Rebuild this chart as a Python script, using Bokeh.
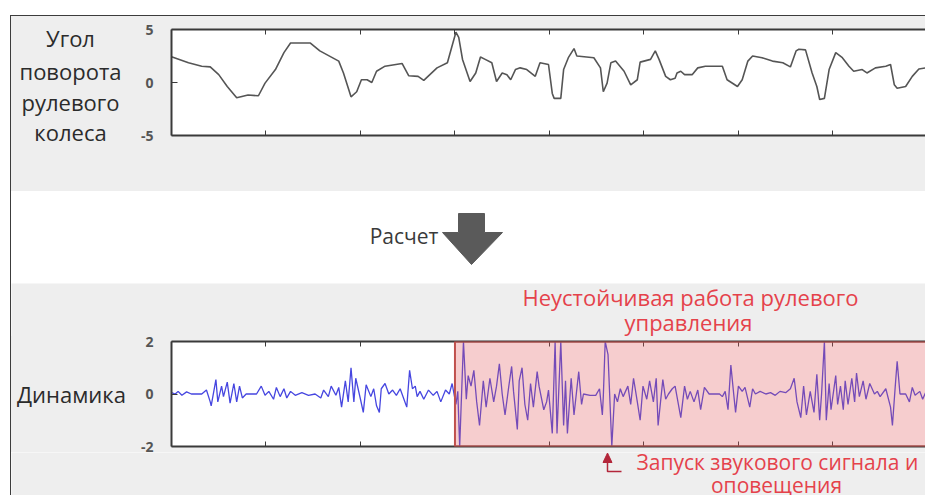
from bokeh.plotting import figure
from bokeh.models import (Range1d, LinearAxis, FixedTicker, CustomJSTickFormatter,
                          BoxAnnotation, Spacer)
from bokeh.layouts import column, row
from bokeh.core.properties import value
from bokeh.embed import file_html
from bokeh.resources import INLINE

# ---------------- data ----------------
angle_t = [0.00, 0.18, 0.32, 0.41, 0.50, 0.59, 0.69, 0.81, 0.92, 0.99,
           1.10, 1.19, 1.26, 1.47, 1.57, 1.77, 1.82, 1.90, 1.96, 2.01,
           2.07, 2.12, 2.17, 2.26, 2.44, 2.51, 2.61, 2.67, 2.81, 2.92,
           2.97, 3.01, 3.04, 3.08, 3.16, 3.22, 3.27, 3.32, 3.39, 3.44,
           3.50, 3.55, 3.59, 3.64, 3.69, 3.76, 3.85, 3.90, 3.99, 4.03,
           4.05, 4.12, 4.15, 4.20, 4.26, 4.29, 4.47, 4.54, 4.57, 4.61,
           4.65, 4.70, 4.79, 4.86, 4.93, 4.96, 5.07, 5.12, 5.16, 5.23,
           5.28, 5.33, 5.35, 5.39, 5.43, 5.51, 5.57, 5.65, 5.83, 5.88,
           5.99, 6.04, 6.10, 6.15, 6.25, 6.36, 6.47, 6.55, 6.61, 6.64,
           6.71, 6.78, 6.83, 6.86, 6.91, 6.96, 7.03, 7.10, 7.17, 7.22,
           7.31, 7.36, 7.45, 7.56, 7.61, 7.65, 7.68, 7.77, 7.84, 7.91,
           7.98]
angle = [2.43, 1.86, 1.54, 1.47, 0.74, -0.38, -1.44, -1.18, -1.25, -0.06,
         1.22, 2.82, 3.72, 3.72, 2.98, 2.02, 0.9, -1.35, -0.87, 0.26,
         0.26, 0.0, 1.06, 1.54, 1.8, 0.64, 0.58, 0.2, 1.38, 1.86,
         3.46, 4.74, 4.26, 2.18, 0.1, 0.9, 2.4, 2.18, 1.86, 0.1,
         0.9, 0.74, 0.26, 1.22, 1.38, 1.22, 0.58, 1.86, 1.7, -1.03,
         -1.5, -1.5, 1.22, 2.34, 3.2, 2.5, 2.34, 1.38, -0.87, -0.06,
         1.86, 2.02, 1.06, -0.22, 0.26, 1.92, 2.18, 2.98, 2.18, 0.58,
         0.26, 0.41, 0.9, 1.06, 0.74, 0.74, 1.38, 1.54, 1.54, 0.26,
         -0.38, 0.26, 2.02, 2.5, 2.34, 2.02, 1.86, 1.47, 2.98, 3.14,
         3.08, 0.9, -0.38, -1.6, -1.5, 1.22, 2.82, 2.34, 1.54, 1.06,
         1.22, 0.9, 1.38, 1.54, 1.7, -0.22, -0.55, -0.38, 0.58, 1.28,
         1.38]

dyn_t = [0.00, 0.04, 0.07, 0.11, 0.16, 0.21, 0.32, 0.37, 0.41, 0.42,
         0.47, 0.49, 0.53, 0.55, 0.59, 0.62, 0.66, 0.69, 0.72, 0.75,
         0.79, 0.90, 0.95, 0.99, 1.03, 1.08, 1.11, 1.15, 1.19, 1.22,
         1.26, 1.31, 1.38, 1.45, 1.52, 1.58, 1.61, 1.66, 1.69, 1.74,
         1.77, 1.80, 1.84, 1.87, 1.90, 1.93, 1.95, 2.00, 2.03, 2.06,
         2.11, 2.14, 2.17, 2.20, 2.22, 2.26, 2.30, 2.34, 2.38, 2.42,
         2.46, 2.49, 2.52, 2.55, 2.58, 2.60, 2.63, 2.67, 2.72, 2.77,
         2.81, 2.85, 2.90, 2.94, 2.97, 3.01, 3.03, 3.05, 3.09, 3.12,
         3.14, 3.17, 3.20, 3.23, 3.26, 3.30, 3.33, 3.37, 3.41, 3.44,
         3.47, 3.50, 3.53, 3.57, 3.60, 3.62, 3.66, 3.68, 3.71, 3.74,
         3.77, 3.80, 3.83, 3.87, 3.89, 3.94, 3.97, 3.99, 4.03, 4.06,
         4.08, 4.12, 4.15, 4.17, 4.19, 4.23, 4.26, 4.31, 4.34, 4.36,
         4.43, 4.49, 4.53, 4.56, 4.57, 4.59, 4.62, 4.66, 4.69, 4.72,
         4.75, 4.78, 4.83, 4.86, 4.89, 4.93, 4.96, 4.99, 5.03, 5.06,
         5.10, 5.13, 5.15, 5.20, 5.23, 5.26, 5.30, 5.33, 5.37, 5.39,
         5.43, 5.46, 5.49, 5.53, 5.57, 5.60, 5.64, 5.69, 5.75, 5.80,
         5.83, 5.86, 5.89, 5.92, 5.95, 5.97, 6.00, 6.04, 6.07, 6.12,
         6.15, 6.18, 6.23, 6.29, 6.34, 6.39, 6.44, 6.50, 6.55, 6.59,
         6.62, 6.66, 6.69, 6.72, 6.76, 6.80, 6.83, 6.86, 6.88, 6.91,
         6.93, 6.96, 6.98, 7.03, 7.05, 7.08, 7.11, 7.13, 7.16, 7.20,
         7.23, 7.25, 7.28, 7.32, 7.35, 7.39, 7.44, 7.47, 7.50, 7.56,
         7.61, 7.63, 7.66, 7.68, 7.71, 7.77, 7.81, 7.84, 7.87, 7.92,
         7.95, 7.98]
dyn = [0.05, 0.0, 0.1, -0.05, 0.08, 0.0, 0.0, 0.15, -0.3, -0.45,
       0.55, -0.3, 0.3, -0.1, 0.45, -0.35, 0.4, -0.3, 0.3, -0.15,
       0.0, 0.0, 0.3, -0.05, 0.1, -0.2, 0.25, -0.1, 0.2, -0.15,
       0.1, -0.05, 0.05, -0.05, 0.0, -0.15, 0.15, -0.1, 0.3, -0.05,
       0.25, -0.5, 0.5, -0.3, 1.0, -0.3, 0.6, -0.2, -0.7, 0.35,
       -0.1, 0.2, -0.45, -0.7, 0.2, 0.4, 0.0, 0.15, -0.05, 0.2,
       -0.2, -0.5, 0.9, 0.2, 0.3, -0.1, 0.1, -0.2, 0.15, -0.05,
       0.1, -0.3, 0.15, 0.0, 0.4, -0.4, 0.1, -2.0, 2.0, -0.2,
       0.7, 0.3, 0.9, -0.3, -1.2, 0.5, -0.5, 0.6, -0.3, 0.3,
       1.15, 0.0, -0.8, 0.3, 1.05, 0.1, -1.35, 0.5, 1.0, -0.4,
       -1.0, 0.4, -0.5, 0.85, 0.3, -0.6, -0.3, 0.15, -1.5, 2.0,
       -1.5, 2.0, -1.2, 0.5, -1.5, 0.6, -0.8, 0.85, -0.4, 0.0,
       -0.05, -0.05, 0.2, -0.8, -0.1, 2.0, 1.5, -2.0, 0.0, -0.3,
       0.2, -0.1, 0.3, -0.4, 0.6, -0.3, -1.0, 0.3, -0.2, 0.5,
       -0.3, 0.6, -1.2, 0.55, -0.2, 0.0, 0.2, 0.3, -0.5, -0.9,
       0.3, -0.2, 0.1, -0.3, 0.15, -0.6, 0.25, 0.0, 0.0, 0.0,
       -0.1, 0.1, -0.6, 1.1, 0.0, -0.7, 0.3, 0.1, 0.25, -0.5,
       0.2, 0.0, 0.1, 0.0, 0.05, -0.05, 0.1, 0.05, 0.2, 0.6,
       -0.3, -0.9, 0.3, -0.8, 0.1, -0.7, 0.75, -1.0, 0.0, 2.0,
       -1.0, 0.4, -0.6, 0.7, -0.4, 0.3, -0.6, 0.5, -0.4, 0.6,
       -0.3, 0.8, -0.1, 0.5, -0.2, 0.4, 0.0, 0.1, -0.1, 0.2,
       -0.5, -1.2, 0.3, 1.25, 0.0, 0.0, -0.3, 0.25, -0.05, 0.1,
       -0.2, 0.05]

x_ticks = [1, 2, 3, 4, 5, 6, 7]
angle_ticks = [-5, 0, 5]
dyn_ticks = [-2, 0, 2]
alert_start = 3.0

angle_title = ["Угол", "поворота", "рулевого", "колеса"]
dyn_title = "Динамика"
calc_text = "Расчет"
unstable_text = ["Неустойчивая работа рулевого", "управления"]
alert_text = ["Запуск звукового сигнала и", "оповещения"]

FONT = "Open Sans"
GRAY = "#eeeeee"
AXIS = "#3a3a3a"
RED = "#e5424b"
DARKRED = "#b3263a"
W = 914          # content width
LW = 125         # label column width
PW = W - LW      # plot figure width


def canvas(w, h, x0, x1, y_top, y_bot, bg):
    """Plain drawing area (no axes) whose frame fills the figure."""
    c = figure(width=w, height=h, x_range=Range1d(x0, x1), y_range=Range1d(y_bot, y_top),
               output_backend="svg", toolbar_location=None, min_border=0,
               x_axis_location=None, y_axis_location=None,
               background_fill_color=bg, border_fill_color=bg,
               outline_line_color=None, frame_align=False)
    c.grid.visible = False
    return c


def panel(h, top, bottom, yr, yticks):
    p = figure(width=PW, height=h, x_range=Range1d(0, 7.98), y_range=Range1d(*yr),
               output_backend="svg", toolbar_location=None,
               x_axis_location=None, y_axis_location=None,
               min_border_left=35, min_border_right=0,
               min_border_top=top, min_border_bottom=bottom,
               background_fill_color="white", border_fill_color=GRAY,
               outline_line_color=None, frame_align=False)
    p.grid.visible = False
    for loc in ("above", "below"):
        ax = LinearAxis(ticker=FixedTicker(ticks=x_ticks),
                        formatter=CustomJSTickFormatter(code="return ''"),
                        major_tick_in=5, major_tick_out=0,
                        minor_tick_line_color=None,
                        axis_line_color=AXIS, axis_line_width=2,
                        major_tick_line_color=AXIS, major_tick_line_width=1,
                        major_label_standoff=0, major_label_text_font_size="1px")
        p.add_layout(ax, loc)
    ya = LinearAxis(ticker=FixedTicker(ticks=yticks),
                    formatter=CustomJSTickFormatter(code="return tick.toString()"),
                    major_tick_in=6, major_tick_out=0,
                    minor_tick_line_color=None,
                    axis_line_color=AXIS, axis_line_width=2,
                    major_tick_line_color=AXIS,
                    major_label_text_font=FONT, major_label_text_font_size="14px",
                    major_label_text_font_style="bold",
                    major_label_text_color="#555555",
                    major_label_standoff=18)
    p.add_layout(ya, "left")
    return p


def label(c, x, y, txt, color="#2b2b2b", align="center", size="22px"):
    c.text(x=[x], y=[y], text=[txt], text_align=align, text_baseline="middle",
           text_font=value(FONT), text_font_size=size, text_color=color)


# ---------------- band 1: steering angle (y 16..191) ----------------
lt = canvas(LW, 175, 11, 11 + LW, 16, 191, GRAY)
for txt, yy in zip(angle_title, [37, 70, 101, 131]):
    label(lt, 70, yy, txt)
pt = panel(175, 13, 56, (-5, 5), angle_ticks)
pt.line(angle_t, angle, line_color="#555555", line_width=1.6)
band1 = row(lt, pt, spacing=0, styles={"background-color": GRAY})

# ---------------- band 2: arrow (y 191..283) ----------------
pm = canvas(W, 92, 11, 925, 191, 283, "white")
pm.patch([458, 484, 484, 502, 471, 442, 458], [213, 213, 232, 232, 264, 232, 232],
         fill_color="#5a5a5a", line_color="#5a5a5a")
label(pm, 438, 235, calc_text, color="#3a3a3a", align="right", size="21px")

# ---------------- band 3: dynamics (y 283..495) ----------------
bt = canvas(W, 53, 11, 925, 283, 336, GRAY)
label(bt, 690, 296, unstable_text[0], color=RED)
label(bt, 688, 321, unstable_text[1], color=RED)

lb = canvas(LW, 116, 11, 11 + LW, 336, 452, GRAY)
label(lb, 71, 393, dyn_title)
pb = panel(116, 5, 6, (-2, 2), dyn_ticks)
pb.line(dyn_t, dyn, line_color="#4646e0", line_width=1.3)
pb.add_layout(BoxAnnotation(left=alert_start, right=8.6, fill_color="#e25a5e",
                            fill_alpha=0.3, line_color="#c0504d", line_width=2,
                            line_alpha=1.0))
mid3 = row(lb, pb, spacing=0, styles={"background-color": GRAY})

bb = canvas(W, 43, 11, 925, 452, 495, GRAY)
label(bb, 636, 461, alert_text[0], color=RED, align="left", size="21px")
label(bb, 776, 484, alert_text[1], color=RED, size="21px")
bb.patch([602.5, 611.5, 607], [462, 462, 452.5], fill_color=DARKRED, line_color=DARKRED)
bb.line([607, 607, 621], [461, 471, 471], line_color=DARKRED, line_width=1.5)

# ---------------- layout ----------------
left_rule = Spacer(width=1, height=480, styles={"background-color": "#3c3c3c"})
top_rule = Spacer(width=W, height=1, styles={"background-color": "#3c3c3c"})
col = column(top_rule, band1, pm, bt, mid3, bb, spacing=0)
lay = row(left_rule, col, spacing=0, margin=(15, 0, 0, 10))

open("out.html", "w").write(file_html(lay, INLINE))
